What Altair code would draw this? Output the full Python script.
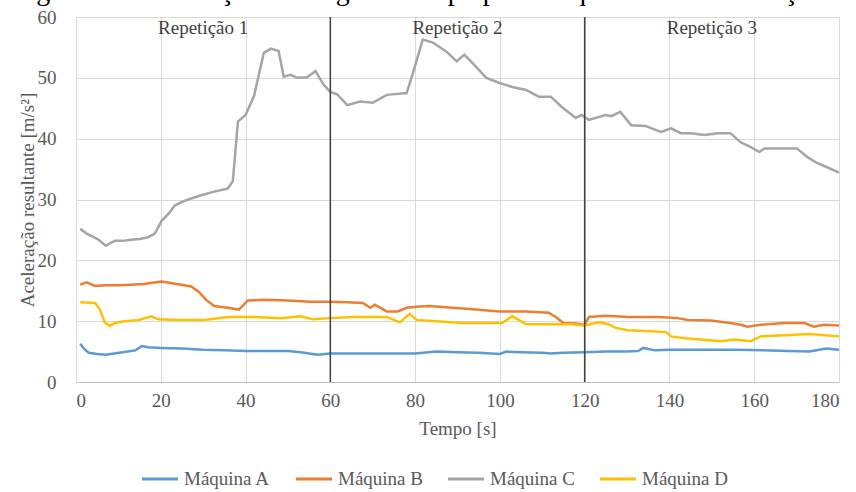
import altair as alt
import pandas as pd

# ---- data ----
series_names = ["Máquina A", "Máquina B", "Máquina C", "Máquina D"]
series_colors = ["#5B9BD5", "#ED7D31", "#A5A5A5", "#FFC000"]

a_t = [1, 2, 3, 5, 7, 9, 11, 13, 14, 15.5, 17, 20, 25, 30, 35, 40, 45, 50, 53, 57, 60,
       65, 70, 75, 80, 85, 90, 95, 100, 101.5, 105, 110, 112, 115, 120, 125, 130, 132.6,
       133.8, 136.6, 140, 146, 150, 156, 162, 168, 173, 177, 180]
a_v = [6.3, 5.4, 4.8, 4.6, 4.5, 4.7, 4.9, 5.1, 5.2, 5.9, 5.7, 5.6, 5.5, 5.3, 5.2, 5.1, 5.1,
       5.1, 4.9, 4.5, 4.7, 4.7, 4.7, 4.7, 4.7, 5.0, 4.9, 4.8, 4.6, 5.0, 4.9, 4.8, 4.7, 4.8,
       4.9, 5.0, 5.0, 5.1, 5.6, 5.2, 5.3, 5.3, 5.3, 5.3, 5.2, 5.1, 5.0, 5.5, 5.3]

b_t = [1, 2.5, 4.5, 7, 10, 13, 16, 18, 20.2, 22, 24.8, 27.2, 29, 30.7, 32.6, 35.8, 38.4,
       39.6, 40.5, 44.3, 49.9, 55.3, 60, 64, 67.7, 69.4, 70.5, 73.3, 75.9, 78, 81, 83.4,
       88.8, 94.4, 99.8, 106, 111.5, 113.2, 115, 117.9, 120, 121, 124.9, 130.3, 134.3,
       137.3, 142, 144.4, 149.8, 154.4, 156.8, 158.4, 161.5, 167, 171.8, 174.1, 176.5, 180]
b_v = [16.0, 16.4, 15.8, 15.9, 15.9, 16.0, 16.1, 16.3, 16.5, 16.3, 16.0, 15.7, 14.8, 13.5,
       12.5, 12.2, 11.9, 12.7, 13.4, 13.5, 13.4, 13.2, 13.2, 13.1, 13.0, 12.2, 12.7, 11.6,
       11.6, 12.2, 12.4, 12.5, 12.2, 11.9, 11.6, 11.6, 11.4, 10.7, 9.7, 9.6, 9.4, 10.7,
       10.9, 10.7, 10.7, 10.7, 10.5, 10.2, 10.1, 9.7, 9.4, 9.1, 9.4, 9.7, 9.7, 9.1, 9.4, 9.3]

c_t = [1, 2.5, 4.2, 5.5, 7, 8, 9.2, 11, 13, 15, 17, 18.6, 20.2, 22, 23.3, 25, 26.5, 29.5,
       32.6, 35.8, 37, 38.2, 40, 42, 44.3, 46, 47.8, 49, 50.6, 52.2, 54.5, 56.5, 58.4, 60,
       61.6, 64, 67, 70, 73.3, 78, 79.5, 81.8, 84.2, 87.4, 89.8, 91.6, 94.4, 96.8, 99.8,
       102.9, 106.2, 109.2, 112, 114.6, 117.9, 119.3, 121, 122, 124.9, 126.3, 128.4, 131,
       134.3, 138, 140.4, 142.7, 145, 148.3, 151.4, 154.4, 156.8, 159.2, 161.2, 162.4, 167,
       170.1, 172.5, 174.8, 177.2, 180]
c_v = [25.2, 24.4, 23.8, 23.3, 22.4, 22.8, 23.2, 23.2, 23.4, 23.5, 23.8, 24.4, 26.5, 27.8,
       29.0, 29.6, 30.0, 30.7, 31.3, 31.8, 33.0, 42.8, 43.9, 47.0, 54.1, 54.8, 54.4, 50.2,
       50.5, 50.0, 50.1, 51.1, 48.9, 47.7, 47.3, 45.5, 46.1, 45.9, 47.2, 47.5, 50.8, 56.3,
       55.8, 54.3, 52.7, 53.8, 51.8, 50.0, 49.2, 48.5, 48.0, 46.9, 46.9, 45.2, 43.4, 43.9,
       43.1, 43.3, 43.9, 43.7, 44.4, 42.2, 42.1, 41.1, 41.7, 40.9, 40.9, 40.6, 40.9, 40.9,
       39.4, 38.6, 37.8, 38.4, 38.4, 38.4, 37.0, 36.0, 35.3, 34.4]

d_t = [1, 4.5, 5.6, 6.8, 8, 9.1, 11.5, 14.8, 17.8, 19.4, 24.1, 30.2, 35.8, 42, 48.3, 53, 56,
       60, 65.4, 73.3, 76.4, 78.7, 80.4, 85, 91.2, 100.5, 102.9, 104.5, 106.2, 112.3, 117,
       120, 123.3, 125.6, 127.3, 130.3, 134.3, 139.2, 140.4, 143.7, 147.4, 152.1, 155.4,
       159.2, 161.5, 167, 173.2, 180]
d_v = [13.1, 13.0, 12.0, 9.8, 9.2, 9.7, 10.0, 10.2, 10.8, 10.3, 10.2, 10.2, 10.7, 10.7, 10.5,
       10.8, 10.3, 10.5, 10.7, 10.7, 9.8, 11.2, 10.2, 10.0, 9.7, 9.7, 10.8, 10.2, 9.5, 9.5,
       9.5, 9.3, 9.8, 9.5, 8.9, 8.5, 8.4, 8.2, 7.5, 7.2, 7.0, 6.7, 7.0, 6.7, 7.5, 7.7, 7.9, 7.5]

x_ticks = list(range(0, 181, 20))
y_ticks = list(range(0, 61, 10))

divider_t = [60, 120]
rep_t = [30, 90, 150]
rep_labels = ["Repetição 1", "Repetição 2", "Repetição 3"]

caption = "Figura 5 – Aceleração ao longo do tempo para máquinas em alta rotação com"

x_title = "Tempo [s]"
y_title = "Aceleração resultante [m/s²]"

# ---- build tables ----
rows = []
for name, ts, vs in zip(series_names, [a_t, b_t, c_t, d_t], [a_v, b_v, c_v, d_v]):
    for t, v in zip(ts, vs):
        rows.append({"t": t, "v": v, "serie": name})
df = pd.DataFrame(rows)

FONT = "Liberation Serif"
W, H = 763, 365

x_enc = alt.X("t:Q", scale=alt.Scale(domain=[0, 180], nice=False),
              axis=alt.Axis(values=x_ticks, title=x_title, grid=True, ticks=False,
                            domain=True, domainColor="#BFBFBF", labelPadding=9,
                            titlePadding=9))
y_enc = alt.Y("v:Q", scale=alt.Scale(domain=[0, 60], nice=False),
              axis=alt.Axis(values=y_ticks, title=y_title, grid=True, ticks=False,
                            domain=False, labelPadding=20, titleX=-49,
                            titleBaseline="middle"))

lines = alt.Chart(df).mark_line(strokeWidth=2.5).encode(
    x=x_enc,
    y=y_enc,
    color=alt.Color("serie:N",
                    scale=alt.Scale(domain=series_names, range=series_colors),
                    legend=alt.Legend(title=None, orient="none", direction="horizontal",
                                      legendX=64, legendY=442, symbolType="stroke",
                                      symbolSize=1300, symbolStrokeWidth=3,
                                      labelFont=FONT, labelFontSize=19,
                                      labelColor="#595959", labelOffset=4,
                                      columnPadding=18, padding=0)),
    order=alt.Order("t:Q"),
)

rules = alt.Chart(pd.DataFrame({"t": divider_t})).mark_rule(
    color="#404040", strokeWidth=1.5).encode(x="t:Q")

reps = alt.Chart(pd.DataFrame({"t": rep_t, "lab": rep_labels})).mark_text(
    font=FONT, fontSize=19, color="#404040", baseline="middle").encode(
    x="t:Q", y=alt.value(11), text="lab:N")

cap = alt.Chart(pd.DataFrame({"c": [caption]})).mark_text(
    font=FONT, fontSize=28, color="#000000", align="left",
    baseline="alphabetic").encode(x=alt.value(-63), y=alt.value(-17), text="c:N")

chart = alt.layer(lines, rules, reps, cap).properties(
    width=W, height=H,
    autosize=alt.AutoSizeParams(type="none"),
    padding={"left": 76, "top": 17, "right": 17, "bottom": 110},
    background="white",
).configure_axis(
    labelFont=FONT, labelFontSize=19, labelColor="#595959",
    titleFont=FONT, titleFontSize=19, titleColor="#595959", titleFontWeight="normal",
    gridColor="#D9D9D9", gridWidth=1,
).configure_view(stroke=None)

chart.save("out.html", embed_options={"renderer": "svg", "actions": False})
